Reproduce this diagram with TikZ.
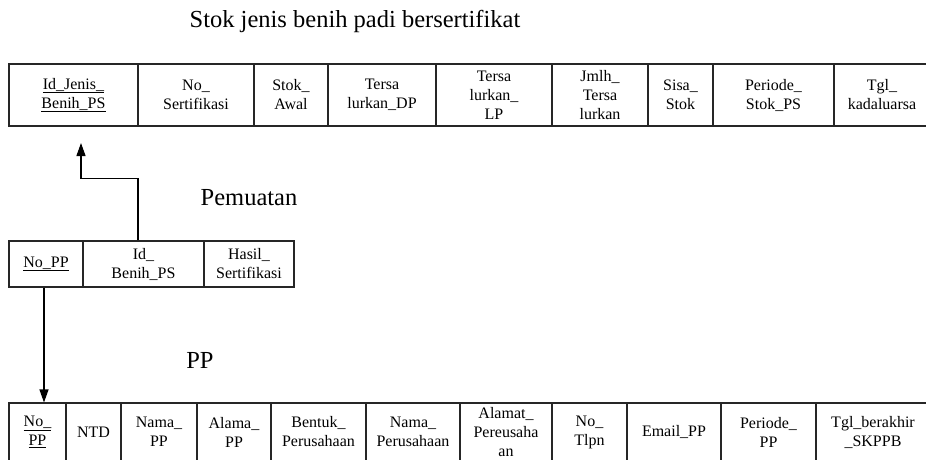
\documentclass[tikz,border=0pt]{standalone}
\usepackage{fontspec}
\setmainfont{Liberation Serif}
\usetikzlibrary{arrows.meta}
\tikzset{
  attr/.style={draw=black!85, line width=1.1pt, inner sep=0pt, align=center,
    font=\fontsize{16}{19}\selectfont},
  tname/.style={font=\fontsize{24.5}{29}\selectfont, inner sep=0pt},
  link/.style={line width=1.1pt, -{Triangle[length=13pt,width=9pt]}}
}
\begin{document}
\begin{tikzpicture}[x=1pt,y=-1pt]
  \useasboundingbox (0,0) rectangle (926,459);
  % Stok jenis benih padi bersertifikat
  \begin{scope}
    \node[tname] (stok) at (355,21) {Stok jenis benih padi bersertifikat};
    \foreach \a/\b/\t [count=\k] in {9/138/{\underline{Id\_Jenis\_}\\\underline{Benih\_PS}},
        138/254/{No\_\\Sertifikasi}, 254/328/{Stok\_\\Awal}, 328/436/{Tersa\\lurkan\_DP},
        436/552/{Tersa\\lurkan\_\\LP}, 552/648/{Jmlh\_\\Tersa\\lurkan}, 648/713/{Sisa\_\\Stok},
        713/834/{Periode\_\\Stok\_PS}, 834/930/{Tgl\_\\kadaluarsa}}{
      \pgfmathsetmacro{\w}{\b-\a}
      \node[attr, minimum width=\w pt, minimum height=62pt] (s\k) at ({(\a+\b)/2},95) {\t};}
  \end{scope}
  % Pemuatan
  \begin{scope}
    \node[tname] (pemuatan) at (249,198) {Pemuatan};
    \foreach \a/\b/\t [count=\k] in {9/83/{\underline{No\_PP}}, 83/204/{Id\_\\Benih\_PS},
        204/294/{Hasil\_\\Sertifikasi}}{
      \pgfmathsetmacro{\w}{\b-\a}
      \node[attr, minimum width=\w pt, minimum height=46pt] (m\k) at ({(\a+\b)/2},264) {\t};}
  \end{scope}
  % PP
  \begin{scope}
    \node[tname] (pp) at (200,360) {PP};
    \foreach \a/\b/\t [count=\k] in {9/66/{\underline{No\_}\\\underline{PP}}, 66/121/{NTD},
        121/197/{Nama\_\\PP}, 197/271/{Alama\_\\PP}, 271/366/{Bentuk\_\\Perusahaan},
        366/460/{Nama\_\\Perusahaan}, 460/552/{Alamat\_\\Pereusaha\\an}, 552/627/{No\_\\Tlpn},
        627/721/{Email\_PP}, 721/816/{Periode\_\\PP}, 816/930/{Tgl\_berakhir\\\_SKPPB}}{
      \pgfmathsetmacro{\w}{\b-\a}
      \node[attr, minimum width=\w pt, minimum height=58pt] (b\k) at ({(\a+\b)/2},432) {\t};}
  \end{scope}
  % relasi
  \coordinate (tip1) at (81,143);
  \draw[link] ([xshift=-5.5pt]m2.north) -- ++(0,-62) -| (tip1);
  \draw[link] ([xshift=-2pt]m1.south) -- ([xshift=-2pt]m1.south |- b1.north);
\end{tikzpicture}
\end{document}
